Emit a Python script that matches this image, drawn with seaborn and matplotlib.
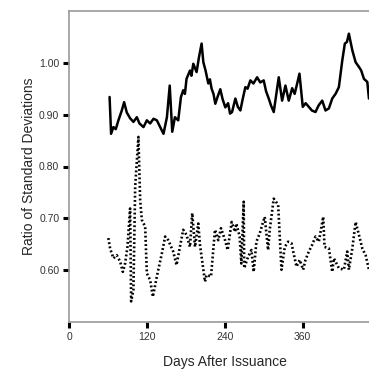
"""
Ratio of standard deviations vs. days after issuance (two series, solid + dotted).
"""

import matplotlib
matplotlib.use("Agg")
import matplotlib.pyplot as plt
import pandas as pd
import seaborn as sns

# ── Data ──────────────────────────────────────────────────────────────────────
solid_days = [62.5, 64.8, 68.4, 72.0, 76.1, 81.3, 84.9, 89.0, 94.1, 99.2, 104.5,
              108.5, 114.7, 119.9, 125.0, 130.1, 135.3, 140.4, 145.5, 150.8, 155.1,
              159.0, 163.1, 168.2, 172.4, 175.9, 178.5, 181.0, 186.3, 188.5, 191.4,
              196.5, 200.2, 204.2, 206.9, 210.3, 214.5, 217.0, 219.6, 222.5, 225.3,
              229.0, 233.0, 236.5, 240.7, 245.0, 248.0, 251.1, 256.2, 260.0, 263.9,
              267.5, 271.6, 275.0, 279.3, 284.0, 289.7, 294.5, 299.8, 303.5, 307.6,
              311.0, 315.3, 323.0, 328.2, 333.3, 338.4, 343.7, 347.5, 351.4, 354.9,
              360.0, 364.5, 369.3, 374.0, 379.6, 384.5, 390.0, 395.0, 400.2, 405.4,
              410.5, 415.6, 420.8, 424.8, 428.0, 431.0, 436.3, 441.4, 446.5, 450.0,
              454.2, 459.4, 461.9]
solid_ratio = [0.934, 0.863, 0.876, 0.872, 0.889, 0.908, 0.924, 0.904, 0.893, 0.886, 0.895,
               0.883, 0.876, 0.889, 0.883, 0.892, 0.889, 0.876, 0.863, 0.895, 0.956,
               0.867, 0.895, 0.889, 0.934, 0.947, 0.940, 0.969, 0.985, 0.975, 0.998,
               0.982, 1.011, 1.037, 1.001, 0.985, 0.960, 0.968, 0.950, 0.940, 0.921,
               0.935, 0.949, 0.930, 0.914, 0.922, 0.902, 0.905, 0.931, 0.915, 0.908,
               0.930, 0.953, 0.950, 0.966, 0.960, 0.972, 0.962, 0.966, 0.945, 0.931,
               0.918, 0.905, 0.972, 0.927, 0.956, 0.927, 0.951, 0.940, 0.960, 0.979,
               0.915, 0.922, 0.915, 0.908, 0.905, 0.918, 0.927, 0.908, 0.912, 0.931,
               0.940, 0.953, 1.004, 1.037, 1.040, 1.056, 1.024, 1.001, 0.992, 0.985,
               0.969, 0.963, 0.931]

dotted_days = [60.6, 63.3, 68.4, 73.6, 78.7, 82.9, 86.4, 90.0, 94.1, 95.7,
               99.2, 101.9, 106.9, 109.6, 112.2, 117.3, 119.9, 125.0, 129.2, 135.3,
               143.1, 148.1, 152.8, 160.5, 165.6, 170.8, 175.9, 181.0, 186.3, 189.8,
               194.0, 199.1, 201.7, 209.4, 211.9, 218.7, 224.8, 229.9, 234.1, 240.3,
               244.3, 250.5, 255.7, 257.7, 262.8, 265.4, 269.0, 269.8, 275.8, 280.9,
               284.4, 288.6, 293.7, 298.9, 301.4, 306.6, 309.1, 315.3, 322.1, 327.2,
               332.3, 337.5, 342.6, 350.3, 355.4, 360.6, 364.2, 369.3, 374.5, 379.6,
               384.7, 391.5, 393.5, 400.2, 405.4, 407.9, 415.6, 423.3, 428.5, 431.0,
               436.3, 441.4, 446.5, 451.7, 456.8, 461.9]
dotted_ratio = [0.662, 0.642, 0.623, 0.629, 0.617, 0.597, 0.613, 0.645, 0.719, 0.540,
                0.562, 0.761, 0.857, 0.735, 0.697, 0.684, 0.594, 0.581, 0.549, 0.588,
                0.633, 0.665, 0.658, 0.636, 0.610, 0.645, 0.678, 0.668, 0.645, 0.710,
                0.645, 0.690, 0.649, 0.578, 0.591, 0.588, 0.678, 0.658, 0.681, 0.658,
                0.639, 0.693, 0.674, 0.690, 0.665, 0.613, 0.732, 0.604, 0.626, 0.639,
                0.597, 0.655, 0.671, 0.693, 0.703, 0.639, 0.678, 0.738, 0.726, 0.601,
                0.645, 0.655, 0.652, 0.607, 0.620, 0.601, 0.620, 0.636, 0.649, 0.665,
                0.655, 0.703, 0.645, 0.642, 0.597, 0.623, 0.604, 0.601, 0.636, 0.601,
                0.642, 0.693, 0.668, 0.642, 0.629, 0.601]

x_ticks = [0, 120, 240, 360]
y_ticks = [0.60, 0.70, 0.80, 0.90, 1.00]

# ── Style ─────────────────────────────────────────────────────────────────────
sns.set_theme(style="white")
plt.rcParams["font.family"] = ["Liberation Sans", "DejaVu Sans"]

fig = plt.figure(figsize=(3.69, 3.75), dpi=100)
ax = fig.add_axes([0.187, 0.141, 0.813, 0.830])

solid = pd.DataFrame({"day": solid_days, "ratio": solid_ratio})
dotted = pd.DataFrame({"day": dotted_days, "ratio": dotted_ratio})

sns.lineplot(data=solid, x="day", y="ratio", ax=ax, color="black",
             linewidth=1.8, estimator=None, sort=False)
sns.lineplot(data=dotted, x="day", y="ratio", ax=ax, color="black",
             linewidth=1.9, linestyle=(0, (0.7, 0.9)), estimator=None, sort=False)

ax.set_xlim(0, 462)
ax.set_ylim(0.50, 1.10)
ax.set_xticks(x_ticks)
ax.set_yticks(y_ticks)
ax.set_xticklabels([str(t) for t in x_ticks])
ax.set_yticklabels([f"{t:.2f}" for t in y_ticks])
ax.tick_params(axis="both", which="major", direction="out", length=4.5,
               width=2.2, color="black", labelsize=7.5, labelcolor="#333333",
               bottom=True, left=True, pad=2.5)

for side in ("left", "bottom", "top"):
    ax.spines[side].set_color("#9a9a9a")
    ax.spines[side].set_linewidth(1.2)
ax.spines["right"].set_visible(False)

ax.set_xlabel("Days After Issuance", fontsize=10)
ax.set_ylabel("Ratio of Standard Deviations", fontsize=10)
ax.xaxis.set_label_coords(0.52, -0.105)
ax.yaxis.set_label_coords(-0.11, 0.5)

fig.savefig("out.png", dpi=100)
